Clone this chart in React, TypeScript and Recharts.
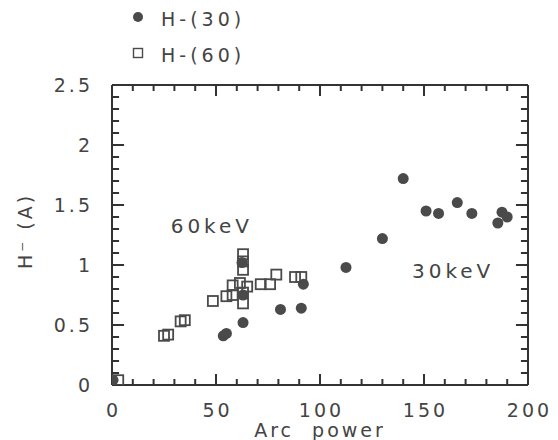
import React from 'react';
import { ScatterChart, Scatter, XAxis, YAxis, Legend, ReferenceDot, ReferenceLine } from 'recharts';

// H-(30): arc power vs H- current
const h30Power = [0.5, 53.5, 55, 63, 81, 91, 92, 63, 62.5, 112.5, 130, 140, 151, 157, 166, 173, 185.5, 187.5, 190];
const h30Current = [0.04, 0.41, 0.43, 0.52, 0.63, 0.64, 0.84, 0.75, 1.02, 0.98, 1.22, 1.72, 1.45, 1.43, 1.52, 1.43, 1.35, 1.44, 1.4];

// H-(60)
const h60Power = [3, 25, 27, 33, 35, 48.5, 55, 58, 58, 61.5, 65, 63, 63, 63, 63, 63, 71.5, 76, 79, 88, 91];
const h60Current = [0.04, 0.41, 0.42, 0.53, 0.54, 0.7, 0.74, 0.75, 0.83, 0.85, 0.82, 0.96, 1.03, 1.09, 0.68, 0.77, 0.84, 0.84, 0.92, 0.9, 0.9];

const xTicks = [0, 10, 20, 30, 40, 50, 60, 70, 80, 90, 100, 110, 120, 130, 140, 150, 160, 170, 180, 190, 200];
const yTicks = [0, 0.1, 0.2, 0.3, 0.4, 0.5, 0.6, 0.7, 0.8, 0.9, 1, 1.1, 1.2, 1.3, 1.4, 1.5, 1.6, 1.7, 1.8, 1.9, 2, 2.1, 2.2, 2.3, 2.4, 2.5];

const labels = [
  { text: '60keV', x: 48, y: 1.33 },
  { text: '30keV', x: 164, y: 0.96 },
];

const h30 = h30Power.map((p, i) => ({ power: p, current: h30Current[i] }));
const h60 = h60Power.map((p, i) => ({ power: p, current: h60Current[i] }));

const INK = '#444';
const AXIS = '#333';
const FONT = '"DejaVu Sans", sans-serif';

// inward tick lengths in data units (x: ~2.08 px/unit, y: ~120 px/unit)
const X_MIN = 0, X_MAX = 200, Y_MIN = 0, Y_MAX = 2.5;
const xTickLen = (v: number) => (v % 50 === 0 ? 0.092 : 0.05);
const yTickLen = (v: number) => (isMajorY(v) ? 5.8 : 3.4);

function isMajorY(v: number) {
  return Math.abs(v * 2 - Math.round(v * 2)) < 1e-6;
}

const textStyle = { fontFamily: FONT, fontSize: 19, fill: INK, letterSpacing: 3 };

const BottomTick = ({ x, y, payload }: any) =>
  payload.value % 50 === 0 ? (
    <text x={x + 1.5} y={y + 32} textAnchor="middle" style={textStyle}>
      {payload.value}
    </text>
  ) : (
    <g />
  );

const LeftTick = ({ x, y, payload }: any) =>
  isMajorY(payload.value) ? (
    <text x={x - 19} y={y + 7} textAnchor="end" style={textStyle}>
      {payload.value}
    </text>
  ) : (
    <g />
  );

const Dot = ({ cx, cy }: any) => <circle cx={cx} cy={cy} r={5.5} fill="#4a4a4a" />;
const Box = ({ cx, cy }: any) => (
  <rect x={cx - 5} y={cy - 5} width={10} height={10} fill="none" stroke="#4a4a4a" strokeWidth={1.8} />
);

const LegendBox = () => (
  <svg width={170} height={72} style={{ display: 'block' }}>
    <circle cx={10} cy={15} r={5} fill="#4a4a4a" />
    <text x={33} y={24} style={{ ...textStyle, letterSpacing: 4 }}>H-(30)</text>
    <rect x={5.5} y={46.5} width={9} height={9} fill="none" stroke="#4a4a4a" strokeWidth={1.4} />
    <text x={33} y={60} style={{ ...textStyle, letterSpacing: 4 }}>H-(60)</text>
  </svg>
);

const tickSegs = [
  ...xTicks.map((v) => [{ x: v, y: Y_MIN }, { x: v, y: Y_MIN + xTickLen(v) }]),
  ...xTicks.map((v) => [{ x: v, y: Y_MAX }, { x: v, y: Y_MAX - xTickLen(v) }]),
  ...yTicks.map((v) => [{ x: X_MIN, y: v }, { x: X_MIN + yTickLen(v), y: v }]),
  ...yTicks.map((v) => [{ x: X_MAX, y: v }, { x: X_MAX - yTickLen(v), y: v }]),
];

export default function App() {
  return (
    <div style={{ position: 'absolute', left: 0, top: 0 }}>
      <ScatterChart width={558} height={440} margin={{ top: 84, right: 29, bottom: 15, left: 52 }}>
        <XAxis
          xAxisId="b"
          type="number"
          dataKey="power"
          domain={[X_MIN, X_MAX]}
          ticks={xTicks}
          interval={0}
          height={40}
          tickSize={0}
          tickMargin={0}
          tickLine={false}
          tick={<BottomTick />}
          stroke={AXIS}
          axisLine={{ strokeWidth: 2 }}
          allowDataOverflow
          label={{
            content: () => (
              <text x={320} y={437} textAnchor="middle" style={{ ...textStyle, whiteSpace: 'pre' }}>
                Arc  power
              </text>
            ),
          }}
        />
        <XAxis
          xAxisId="t"
          type="number"
          dataKey="power"
          domain={[X_MIN, X_MAX]}
          ticks={xTicks}
          orientation="top"
          height={1}
          tick={false}
          tickLine={false}
          stroke={AXIS}
          axisLine={{ strokeWidth: 2 }}
          allowDataOverflow
        />
        <YAxis
          yAxisId="l"
          type="number"
          dataKey="current"
          domain={[Y_MIN, Y_MAX]}
          ticks={yTicks}
          interval={0}
          width={60}
          tickSize={0}
          tickMargin={0}
          tickLine={false}
          tick={<LeftTick />}
          stroke={AXIS}
          axisLine={{ strokeWidth: 2 }}
          allowDataOverflow
          label={{
            content: () => (
              <text x={32} y={231} textAnchor="middle" transform="rotate(-90 32 231)" style={textStyle}>
                H⁻ (A)
              </text>
            ),
          }}
        />
        <YAxis
          yAxisId="r"
          type="number"
          dataKey="current"
          domain={[Y_MIN, Y_MAX]}
          ticks={yTicks}
          orientation="right"
          width={1}
          tick={false}
          tickLine={false}
          stroke={AXIS}
          axisLine={{ strokeWidth: 2 }}
          allowDataOverflow
        />
        {tickSegs.map((seg, i) => (
          <ReferenceLine
            key={i}
            xAxisId="b"
            yAxisId="l"
            segment={seg}
            stroke={AXIS}
            strokeWidth={2}
            ifOverflow="extendDomain"
          />
        ))}
        <Legend
          layout="vertical"
          align="center"
          verticalAlign="middle"
          wrapperStyle={{ position: 'absolute', left: 128, top: 2, width: 170 }}
          content={() => <LegendBox />}
        />
        <Scatter name="H-(30)" data={h30} xAxisId="b" yAxisId="l" shape={<Dot />} isAnimationActive={false} />
        <Scatter name="H-(60)" data={h60} xAxisId="b" yAxisId="l" shape={<Box />} isAnimationActive={false} />
        {labels.map((l) => (
          <ReferenceDot
            key={l.text}
            x={l.x}
            y={l.y}
            xAxisId="b"
            yAxisId="l"
            r={0}
            shape={(p: any) => (
              <text x={p.cx} y={p.cy + 8} textAnchor="middle" style={{ ...textStyle, fontSize: 20, letterSpacing: 4 }}>
                {l.text}
              </text>
            )}
          />
        ))}
      </ScatterChart>
    </div>
  );
}
